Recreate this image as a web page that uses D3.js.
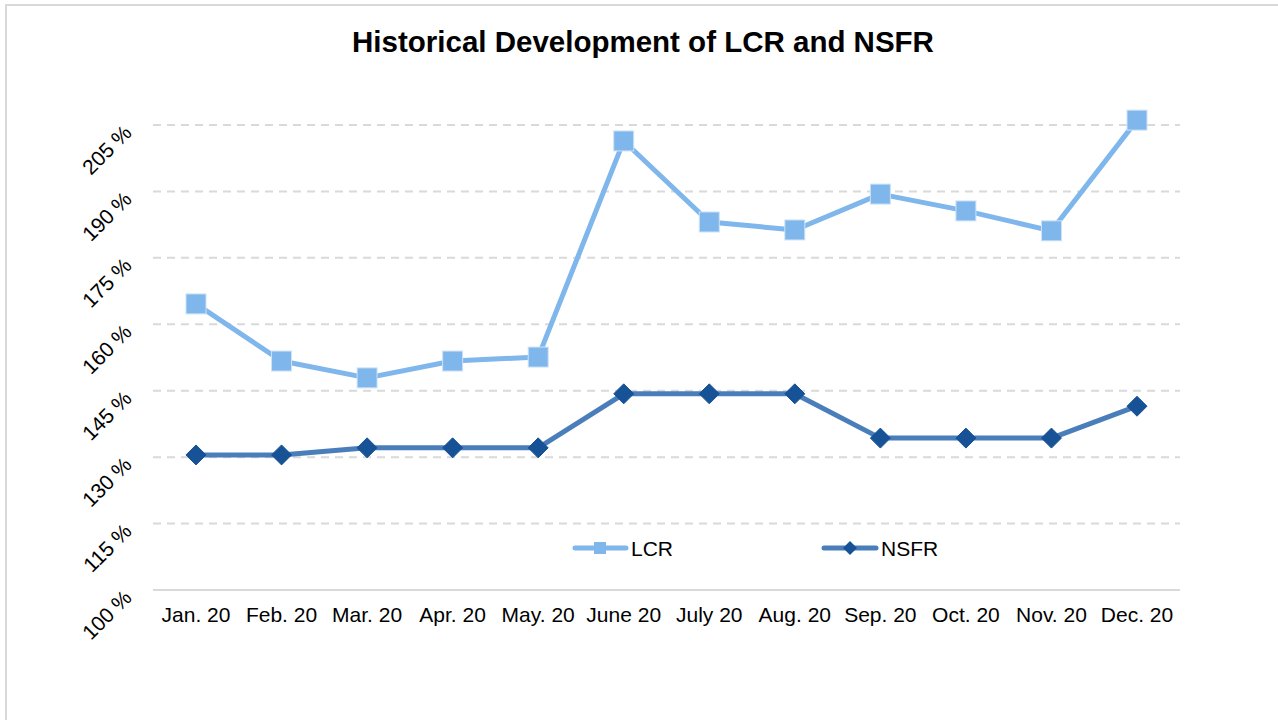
<!DOCTYPE html>
<html>
<head>
<meta charset="utf-8">
<script src="https://cdn.jsdelivr.net/npm/d3@7.9.0/dist/d3.min.js"></script>
<style>
  html, body { margin: 0; padding: 0; background: #fff; }
  svg { display: block; font-family: 'Liberation Sans', Arial, sans-serif; }
</style>
</head>
<body>
<svg id="chart" width="1278" height="720"></svg>
<script>
// ---------- data ----------
const months = ['Jan. 20', 'Feb. 20', 'Mar. 20', 'Apr. 20', 'May. 20', 'June 20',
  'July 20', 'Aug. 20', 'Sep. 20', 'Oct. 20', 'Nov. 20', 'Dec. 20'];
const lcrValues = [164.6, 151.7, 147.9, 151.7, 152.6, 201.4, 183.1, 181.3, 189.4, 185.6, 181.1, 206.1];
const nsfrValues = [130.5, 130.5, 132.1, 132.1, 132.1, 144.3, 144.3, 144.3, 134.3, 134.3, 134.3, 141.5];
const yTicks = [100, 115, 130, 145, 160, 175, 190, 205];

const LCR_COLOR = '#7fb6ec';
const NSFR_LINE = '#4a7ebb';
const NSFR_MARK = '#175296';

const svg = d3.select('#chart');

// outer frame (only top + left visible)
svg.append('path')
  .attr('d', 'M6,720 V5 H1278')
  .attr('fill', 'none')
  .attr('stroke', '#d9d9d9')
  .attr('stroke-width', 2);

// title
svg.append('text')
  .attr('x', 643)
  .attr('y', 52)
  .attr('text-anchor', 'middle')
  .attr('font-size', 29.5)
  .attr('font-weight', 'bold')
  .attr('fill', '#000')
  .text('Historical Development of LCR and NSFR');

// ---------- scales ----------
const x = d3.scalePoint().domain(months).range([196, 1137]);
const y = d3.scaleLinear().domain([100, 205]).range([590, 125]);

// gridlines
svg.append('g')
  .selectAll('line')
  .data(yTicks.filter(t => t > 100))
  .join('line')
  .attr('x1', 153).attr('x2', 1180)
  .attr('y1', d => y(d)).attr('y2', d => y(d))
  .attr('stroke', '#d9d9d9')
  .attr('stroke-width', 2)
  .attr('stroke-dasharray', '8,6');

// x axis line
svg.append('line')
  .attr('x1', 153).attr('x2', 1180)
  .attr('y1', y(100)).attr('y2', y(100))
  .attr('stroke', '#d9d9d9')
  .attr('stroke-width', 2);

// y labels (rotated)
svg.append('g')
  .selectAll('text')
  .data(yTicks)
  .join('text')
  .attr('transform', d => `translate(133,${y(d) + 9}) rotate(-45)`)
  .attr('text-anchor', 'end')
  .attr('font-size', 21)
  .attr('fill', '#000')
  .text(d => d + ' %');

// x labels
svg.append('g')
  .selectAll('text')
  .data(months)
  .join('text')
  .attr('x', d => x(d))
  .attr('y', 622)
  .attr('text-anchor', 'middle')
  .attr('font-size', 21)
  .attr('fill', '#000')
  .text(d => d);

// ---------- lines ----------
const line = d3.line()
  .x((d, i) => x(months[i]))
  .y(d => y(d));

svg.append('path')
  .datum(nsfrValues)
  .attr('d', line)
  .attr('fill', 'none')
  .attr('stroke', NSFR_LINE)
  .attr('stroke-width', 5)
  .attr('stroke-linejoin', 'round');

svg.append('path')
  .datum(lcrValues)
  .attr('d', line)
  .attr('fill', 'none')
  .attr('stroke', LCR_COLOR)
  .attr('stroke-width', 5)
  .attr('stroke-linejoin', 'round');

// markers
const diamond = 'M0,-10 L10,0 L0,10 L-10,0 Z';

svg.append('g')
  .selectAll('path')
  .data(nsfrValues)
  .join('path')
  .attr('d', diamond)
  .attr('transform', (d, i) => `translate(${x(months[i])},${y(d)})`)
  .attr('fill', NSFR_MARK)
  .attr('stroke', NSFR_MARK)
  .attr('stroke-width', 1);

svg.append('g')
  .selectAll('rect')
  .data(lcrValues)
  .join('rect')
  .attr('x', (d, i) => x(months[i]) - 10)
  .attr('y', d => y(d) - 10)
  .attr('width', 20)
  .attr('height', 20)
  .attr('fill', LCR_COLOR)
  .attr('stroke', '#cfe3f7')
  .attr('stroke-width', 1);

// ---------- legend ----------
const legend = svg.append('g');

legend.append('line')
  .attr('x1', 575).attr('x2', 626).attr('y1', 548).attr('y2', 548)
  .attr('stroke', LCR_COLOR).attr('stroke-width', 5).attr('stroke-linecap', 'round');
legend.append('rect')
  .attr('x', 594).attr('y', 542).attr('width', 12).attr('height', 12)
  .attr('fill', LCR_COLOR);
legend.append('text')
  .attr('x', 631).attr('y', 555.5)
  .attr('font-size', 21).attr('fill', '#000')
  .text('LCR');

legend.append('line')
  .attr('x1', 824).attr('x2', 876).attr('y1', 548).attr('y2', 548)
  .attr('stroke', NSFR_LINE).attr('stroke-width', 5).attr('stroke-linecap', 'round');
legend.append('path')
  .attr('d', 'M0,-7 L7,0 L0,7 L-7,0 Z')
  .attr('transform', 'translate(850,548)')
  .attr('fill', NSFR_MARK);
legend.append('text')
  .attr('x', 881).attr('y', 555.5)
  .attr('font-size', 21).attr('fill', '#000')
  .text('NSFR');
</script>
</body>
</html>
